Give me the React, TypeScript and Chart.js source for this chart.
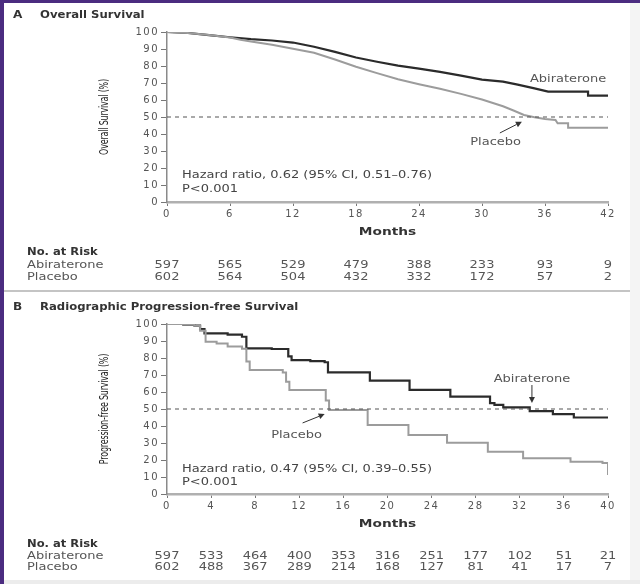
import React, { useEffect, useRef } from "react";
import { Chart, registerables } from "chart.js";
Chart.register(...registerables);

// ---------- Panel A: Overall Survival ----------
const osRiskMonths = [0, 6, 12, 18, 24, 30, 36, 42];
const osRiskAbiraterone = [597, 565, 529, 479, 388, 233, 93, 9];
const osRiskPlacebo = [602, 564, 504, 432, 332, 172, 57, 2];

const osAbiMonths = [0, 2, 4, 6, 8, 10, 12, 14, 16, 18, 20, 22, 24, 26, 28, 30, 32, 33.4, 35, 36.3, 40.1, 40.1, 42];
const osAbiSurvival = [100, 99.4, 98.2, 96.9, 95.8, 95.0, 93.8, 91.3, 88.3, 85.0, 82.5, 80.2, 78.5, 76.5, 74.3, 72.0, 70.8, 69.0, 66.8, 64.9, 64.9, 62.6, 62.6];

const osPlaMonths = [0, 2, 4, 6, 7, 8, 10, 12, 14, 16, 18, 20, 22, 24, 26, 28, 30, 32, 33, 34, 35, 36, 37, 37.2, 38.2, 38.2, 42];
const osPlaSurvival = [100, 99.4, 98.2, 96.8, 95.5, 94.4, 92.5, 90.2, 87.8, 83.8, 79.6, 75.8, 72.2, 69.3, 66.6, 63.6, 60.3, 56.3, 53.8, 51.2, 49.8, 48.8, 48.2, 46.3, 46.3, 43.7, 43.7];

// ---------- Panel B: Radiographic Progression-free Survival ----------
const pfsRiskMonths = [0, 4, 8, 12, 16, 20, 24, 28, 32, 36, 40];
const pfsRiskAbiraterone = [597, 533, 464, 400, 353, 316, 251, 177, 102, 51, 21];
const pfsRiskPlacebo = [602, 488, 367, 289, 214, 168, 127, 81, 41, 17, 7];

const pfsAbiMonths = [0, 1.5, 2.5, 3.0, 3.4, 5.5, 6.8, 7.2, 9.5, 11.0, 11.3, 13.0, 14.3, 14.6, 18.4, 22.0, 25.7, 29.3, 29.7, 30.5, 32.9, 35.0, 36.9, 40];
const pfsAbiSurvival = [100, 99.5, 99.0, 97.0, 94.5, 93.8, 92.5, 85.7, 85.3, 81.0, 78.8, 78.2, 77.5, 71.6, 66.7, 61.2, 57.3, 53.5, 52.4, 51.0, 48.8, 47.0, 45.0, 45.0];

const pfsPlaMonths = [0, 1.5, 2.5, 3.0, 3.5, 4.5, 5.5, 6.8, 7.2, 7.5, 10.5, 10.8, 11.1, 14.4, 14.7, 18.2, 21.9, 25.4, 29.1, 32.3, 36.6, 39.5, 40, 40];
const pfsPlaSurvival = [100, 99.5, 99.0, 96.0, 89.6, 88.5, 86.8, 85.5, 78.0, 72.9, 71.5, 66.0, 61.2, 55.0, 49.4, 40.6, 34.7, 30.2, 24.9, 21.0, 19.0, 18.2, 17.5, 11.2];

const yTicks = [0, 10, 20, 30, 40, 50, 60, 70, 80, 90, 100];

const FONT = "DejaVu Sans";
const DARK = "#2b2b2b";
const GREY_LINE = "#9c9c9c";
const TEXT = "#555555";

type Pt = [number, number];
interface PanelCfg {
  letter: string;
  title: string;
  yTitle: string;
  xMax: number;
  riskMonths: number[];
  riskAbi: number[];
  riskPla: number[];
  abiX: number[];
  abiY: number[];
  plaX: number[];
  plaY: number[];
  stepped: boolean;
  hazard: string;
  hazardAt: Pt;
  pAt: Pt;
  abiLabel: Pt;
  abiArrow: [Pt, Pt] | null;
  plaLabel: Pt;
  plaArrow: [Pt, Pt] | null;
  riskRows: number[];
}

const panelA: PanelCfg = {
  letter: "A",
  title: "Overall Survival",
  yTitle: "Overall Survival (%)",
  xMax: 42,
  riskMonths: osRiskMonths,
  riskAbi: osRiskAbiraterone,
  riskPla: osRiskPlacebo,
  abiX: osAbiMonths,
  abiY: osAbiSurvival,
  plaX: osPlaMonths,
  plaY: osPlaSurvival,
  stepped: false,
  hazard: "Hazard ratio, 0.62 (95% CI, 0.51\u20130.76)",
  hazardAt: [1.43, 15.9],
  pAt: [1.43, 7.6],
  abiLabel: [38.2, 72.4],
  abiArrow: null,
  plaLabel: [31.3, 35.3],
  plaArrow: [[31.7, 40.6], [33.8, 47.2]],
  riskRows: [252, 265, 277],
};

const panelB: PanelCfg = {
  letter: "B",
  title: "Radiographic Progression-free Survival",
  yTitle: "Progression-free Survival (%)",
  xMax: 40,
  riskMonths: pfsRiskMonths,
  riskAbi: pfsRiskAbiraterone,
  riskPla: pfsRiskPlacebo,
  abiX: pfsAbiMonths,
  abiY: pfsAbiSurvival,
  plaX: pfsPlaMonths,
  plaY: pfsPlaSurvival,
  stepped: true,
  hazard: "Hazard ratio, 0.47 (95% CI, 0.39\u20130.55)",
  hazardAt: [1.36, 14.7],
  pAt: [1.36, 7.1],
  abiLabel: [33.1, 67.6],
  abiArrow: [[33.1, 64.1], [33.1, 53.5]],
  plaLabel: [11.75, 34.7],
  plaArrow: [[12.3, 41.8], [14.3, 47.0]],
  riskRows: [252, 264.5, 275.5],
};

function txt(
  ctx: CanvasRenderingContext2D,
  s: string,
  x: number,
  y: number,
  font: string,
  color: string,
  align: CanvasTextAlign = "left",
  sx = 1.3
) {
  ctx.save();
  ctx.letterSpacing = "0px";
  ctx.font = font;
  ctx.fillStyle = color;
  ctx.textAlign = align;
  ctx.textBaseline = "middle";
  ctx.translate(x, y);
  ctx.scale(sx, 1);
  ctx.fillText(s, 0, 0);
  ctx.restore();
}

function arrow(ctx: CanvasRenderingContext2D, x1: number, y1: number, x2: number, y2: number) {
  const a = Math.atan2(y2 - y1, x2 - x1);
  const L = 6;
  const W = 3;
  ctx.save();
  ctx.strokeStyle = "#333";
  ctx.fillStyle = "#333";
  ctx.lineWidth = 1;
  ctx.beginPath();
  ctx.moveTo(x1, y1);
  ctx.lineTo(x2 - Math.cos(a) * L, y2 - Math.sin(a) * L);
  ctx.stroke();
  ctx.beginPath();
  ctx.moveTo(x2, y2);
  ctx.lineTo(x2 - Math.cos(a) * L - Math.sin(a) * W, y2 - Math.sin(a) * L + Math.cos(a) * W);
  ctx.lineTo(x2 - Math.cos(a) * L + Math.sin(a) * W, y2 - Math.sin(a) * L - Math.cos(a) * W);
  ctx.closePath();
  ctx.fill();
  ctx.restore();
}

function makeOverlay(cfg: PanelCfg) {
  return {
    id: "overlay",
    beforeDraw(chart: any) {
      chart.ctx.letterSpacing = "1.5px";
    },
    afterDraw(chart: any) {
      const ctx: CanvasRenderingContext2D = chart.ctx;
      const xs = chart.scales.x;
      const ys = chart.scales.y;
      const X = (v: number) => xs.getPixelForValue(v);
      const Y = (v: number) => ys.getPixelForValue(v);
      const ca = chart.chartArea;

      // panel title
      txt(ctx, cfg.letter, 13, 15, `bold 11px "${FONT}"`, "#333", "left", 1.1);
      txt(ctx, cfg.title, 40, 15, `bold 11px "${FONT}"`, "#333", "left", 1.06);

      // y axis title (rotated)
      ctx.save();
      ctx.letterSpacing = "-0.2px";
      ctx.translate(105, (ca.top + ca.bottom) / 2);
      ctx.scale(1.5, 1);
      ctx.rotate(-Math.PI / 2);
      ctx.font = `8px "${FONT}"`;
      ctx.fillStyle = "#222";
      ctx.textAlign = "center";
      ctx.textBaseline = "middle";
      ctx.fillText(cfg.yTitle, 0, 0);
      ctx.restore();

      // x axis title
      txt(ctx, "Months", (ca.left + ca.right) / 2, 232.5, `bold 11px "${FONT}"`, "#333", "center", 1.25);

      // hazard text
      const small = `10px "${FONT}"`;
      txt(ctx, cfg.hazard, X(cfg.hazardAt[0]), Y(cfg.hazardAt[1]), small, "#444", "left", 1.3);
      txt(ctx, "P<0.001", X(cfg.pAt[0]), Y(cfg.pAt[1]), small, "#444", "left", 1.3);

      // curve labels and arrows
      txt(ctx, "Abiraterone", X(cfg.abiLabel[0]), Y(cfg.abiLabel[1]), small, TEXT, "center", 1.3);
      txt(ctx, "Placebo", X(cfg.plaLabel[0]), Y(cfg.plaLabel[1]), small, TEXT, "center", 1.3);
      if (cfg.abiArrow) {
        const [p, q] = cfg.abiArrow;
        arrow(ctx, X(p[0]), Y(p[1]), X(q[0]), Y(q[1]));
      }
      if (cfg.plaArrow) {
        const [p, q] = cfg.plaArrow;
        arrow(ctx, X(p[0]), Y(p[1]), X(q[0]), Y(q[1]));
      }

      // risk table
      const [r0, r1, r2] = cfg.riskRows;
      txt(ctx, "No. at Risk", 27, r0, `bold 11px "${FONT}"`, "#333", "left", 1.05);
      txt(ctx, "Abiraterone", 27, r1, small, TEXT, "left", 1.3);
      txt(ctx, "Placebo", 27, r2, small, TEXT, "left", 1.3);
      cfg.riskMonths.forEach((m, i) => {
        txt(ctx, String(cfg.riskAbi[i]), X(m), r1, small, TEXT, "center", 1.3);
        txt(ctx, String(cfg.riskPla[i]), X(m), r2, small, TEXT, "center", 1.3);
      });
    },
  };
}

function Panel({ cfg, top }: { cfg: PanelCfg; top: number }) {
  const ref = useRef<HTMLCanvasElement | null>(null);
  useEffect(() => {
    if (!ref.current) return;
    const abi = cfg.abiX.map((x, i) => ({ x, y: cfg.abiY[i] }));
    const pla = cfg.plaX.map((x, i) => ({ x, y: cfg.plaY[i] }));
    const ref50 = [
      { x: 0, y: 50 },
      { x: cfg.xMax, y: 50 },
    ];
    const chart = new Chart(ref.current, {
      type: "line",
      data: {
        datasets: [
          {
            label: "50%",
            data: ref50,
            borderColor: "#555",
            borderWidth: 1,
            borderDash: [4, 4],
            pointRadius: 0,
            fill: false,
          },
          {
            label: "Placebo",
            data: pla,
            borderColor: GREY_LINE,
            borderWidth: 2,
            pointRadius: 0,
            tension: 0,
            stepped: cfg.stepped,
            fill: false,
          },
          {
            label: "Abiraterone",
            data: abi,
            borderColor: DARK,
            borderWidth: 2.2,
            pointRadius: 0,
            tension: 0,
            stepped: cfg.stepped,
            fill: false,
          },
        ],
      },
      options: {
        animation: false,
        responsive: false,
        devicePixelRatio: 1,
        events: [],
        layout: { padding: { left: 0, right: 32, top: 32, bottom: 0 } },
        plugins: {
          legend: { display: false },
          tooltip: { enabled: false },
          title: { display: false },
        },
        scales: {
          x: {
            type: "linear",
            min: 0,
            max: cfg.xMax,
            afterFit: (s: any) => {
              s.height = 90;
            },
            afterBuildTicks: (s: any) => {
              s.ticks = cfg.riskMonths.map((v) => ({ value: v }));
            },
            ticks: {
              autoSkip: false,
              maxRotation: 0,
              color: TEXT,
              padding: 2,
              font: { family: FONT, size: 10 },
            },
            grid: {
              drawOnChartArea: false,
              drawTicks: true,
              tickLength: 4,
              color: "#777",
              lineWidth: 1,
            },
            border: { display: true, color: "#b0b0b0", width: 2.5 },
          },
          y: {
            type: "linear",
            min: 0,
            max: 100,
            afterFit: (s: any) => {
              s.width = 167;
            },
            afterBuildTicks: (s: any) => {
              s.ticks = yTicks.map((v) => ({ value: v }));
            },
            ticks: {
              autoSkip: false,
              color: TEXT,
              padding: 2,
              font: { family: FONT, size: 10 },
            },
            grid: {
              drawOnChartArea: false,
              drawTicks: true,
              tickLength: 6,
              color: "#777",
              lineWidth: 1,
            },
            border: { display: true, color: "#8a8a8a", width: 1.5 },
          },
        },
      },
      plugins: [makeOverlay(cfg)],
    } as any);
    return () => chart.destroy();
  }, [cfg]);
  return (
    <canvas
      ref={ref}
      width={640}
      height={292}
      style={{ position: "absolute", left: 0, top, width: 640, height: 292 }}
    />
  );
}

export default function App() {
  useEffect(() => {
    document.body.style.margin = "0";
  }, []);
  return (
    <div style={{ position: "relative", width: 640, height: 584, background: "#fff", overflow: "hidden" }}>
      <Panel cfg={panelA} top={0} />
      <Panel cfg={panelB} top={292} />
      <div style={{ position: "absolute", left: 0, top: 0, width: 640, height: 3, background: "#4b2c80" }} />
      <div style={{ position: "absolute", left: 0, top: 0, width: 4, height: 584, background: "#4b2c80" }} />
      <div style={{ position: "absolute", left: 4, top: 290, width: 626, height: 2, background: "#c4c4c4" }} />
      <div style={{ position: "absolute", left: 630, top: 3, width: 10, height: 581, background: "#f4f4f4" }} />
      <div style={{ position: "absolute", left: 4, top: 580, width: 636, height: 4, background: "#ececec" }} />
    </div>
  );
}
